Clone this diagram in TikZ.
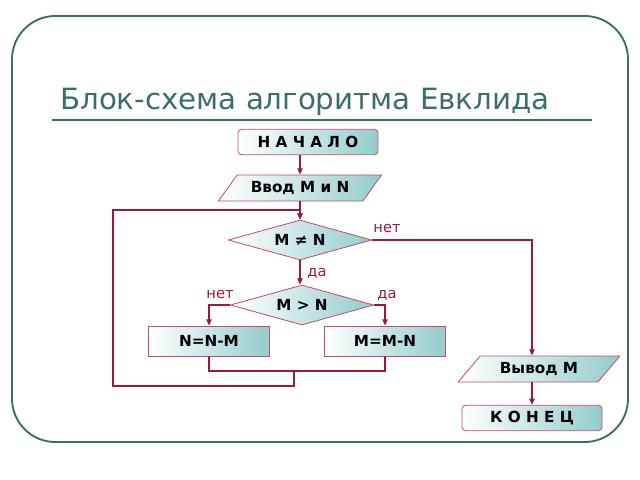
\documentclass[tikz,border=0pt]{standalone}
\usepackage{fontspec}
\setmainfont{DejaVu Sans}
\usetikzlibrary{shapes.geometric, arrows.meta, positioning, calc}
\definecolor{frameteal}{RGB}{58,110,108}
\definecolor{flowred}{RGB}{158,22,72}
\definecolor{boxedge}{RGB}{192,78,108}
\definecolor{boxfill}{RGB}{148,204,204}

\begin{document}
\begin{tikzpicture}[
  x=0.03cm, y=-0.03cm,
  block/.style={draw=boxedge, line width=0.7pt, left color=white, right color=boxfill,
    font=\bfseries\fontsize{13}{15}\selectfont, inner sep=0pt},
  term/.style={block, rounded corners=3pt, minimum width=4.2cm, minimum height=0.76cm},
  proc/.style={block, minimum width=3.63cm, minimum height=0.9cm},
  io/.style={block, trapezium, trapezium stretches=true, trapezium left angle=42,
    trapezium right angle=138, minimum width=4.9cm, minimum height=0.78cm},
  cond/.style={block, diamond, aspect=3.6, minimum width=4.3cm, minimum height=1.2cm},
  lbl/.style={text=flowred, font=\fontsize{12.5}{14}\selectfont, inner sep=0pt},
  flow/.style={draw=flowred, line width=1.7pt},
  >={Triangle[length=1.9mm,width=1.6mm]}
]
\useasboundingbox (0,0) rectangle (640,480);

% frame and title
\draw[frameteal, line width=1.6pt, rounded corners=1.3cm] (12,16) rectangle (628,442);
\node[anchor=base west, text=frameteal, font=\fontsize{25}{28}\selectfont, inner sep=0pt]
  (title) at (60,110) {Блок-схема алгоритма Евклида};
\draw[frameteal, line width=2.4pt] (52,120) -- (592,120);

% blocks
\node[term] (Start) at (308,142) {Н А Ч А Л О};
\node[io]   (In)    at (300,188) {Ввод M и N};
\node[cond] (C1)    at (300,240) {M ≠ N};
\node[cond] (C2)    at (302,305) {M > N};
\node[proc] (Sub1)  at (209,341) {N=N-M};
\node[proc] (Sub2)  at (385,341) {M=M-N};
\node[io]   (Out)   at (539,369) {Вывод M};
\node[term] (End)   at (532,418) {К О Н Е Ц};

% labels
\node[lbl] (no1)  at (387,229) {нет};
\node[lbl] (yes1) at (317,273) {да};
\node[lbl] (no2)  at (220,295) {нет};
\node[lbl] (yes2) at (387,295) {да};

% connectors
\draw[flow,->] (C1.north |- Start.south) -- (C1.north |- In.north);
\draw[flow,->] (C1.north |- In.south) -- (C1.north);
\draw[flow,->] (C1.south) -- (C1.south |- C2.north);
\draw[flow,->] (C2.west) -| (Sub1.north);
\draw[flow,->] (C2.east) -| (Sub2.north);
\coordinate (join) at ($(Sub1.south)!0.485!(Sub2.south)+(0,15)$);
\coordinate (back) at (113,386);
\draw[flow] (Sub1.south) |- (join) -| (Sub2.south);
\draw[flow,->] (join) |- (back) |- ($(C1.north)+(0,-10)$) -- (C1.north);
\draw[flow,->] (C1.east) -| (End.north |- Out.north);
\draw[flow,->] (End.north |- Out.south) -- (End.north);
\end{tikzpicture}
\end{document}
